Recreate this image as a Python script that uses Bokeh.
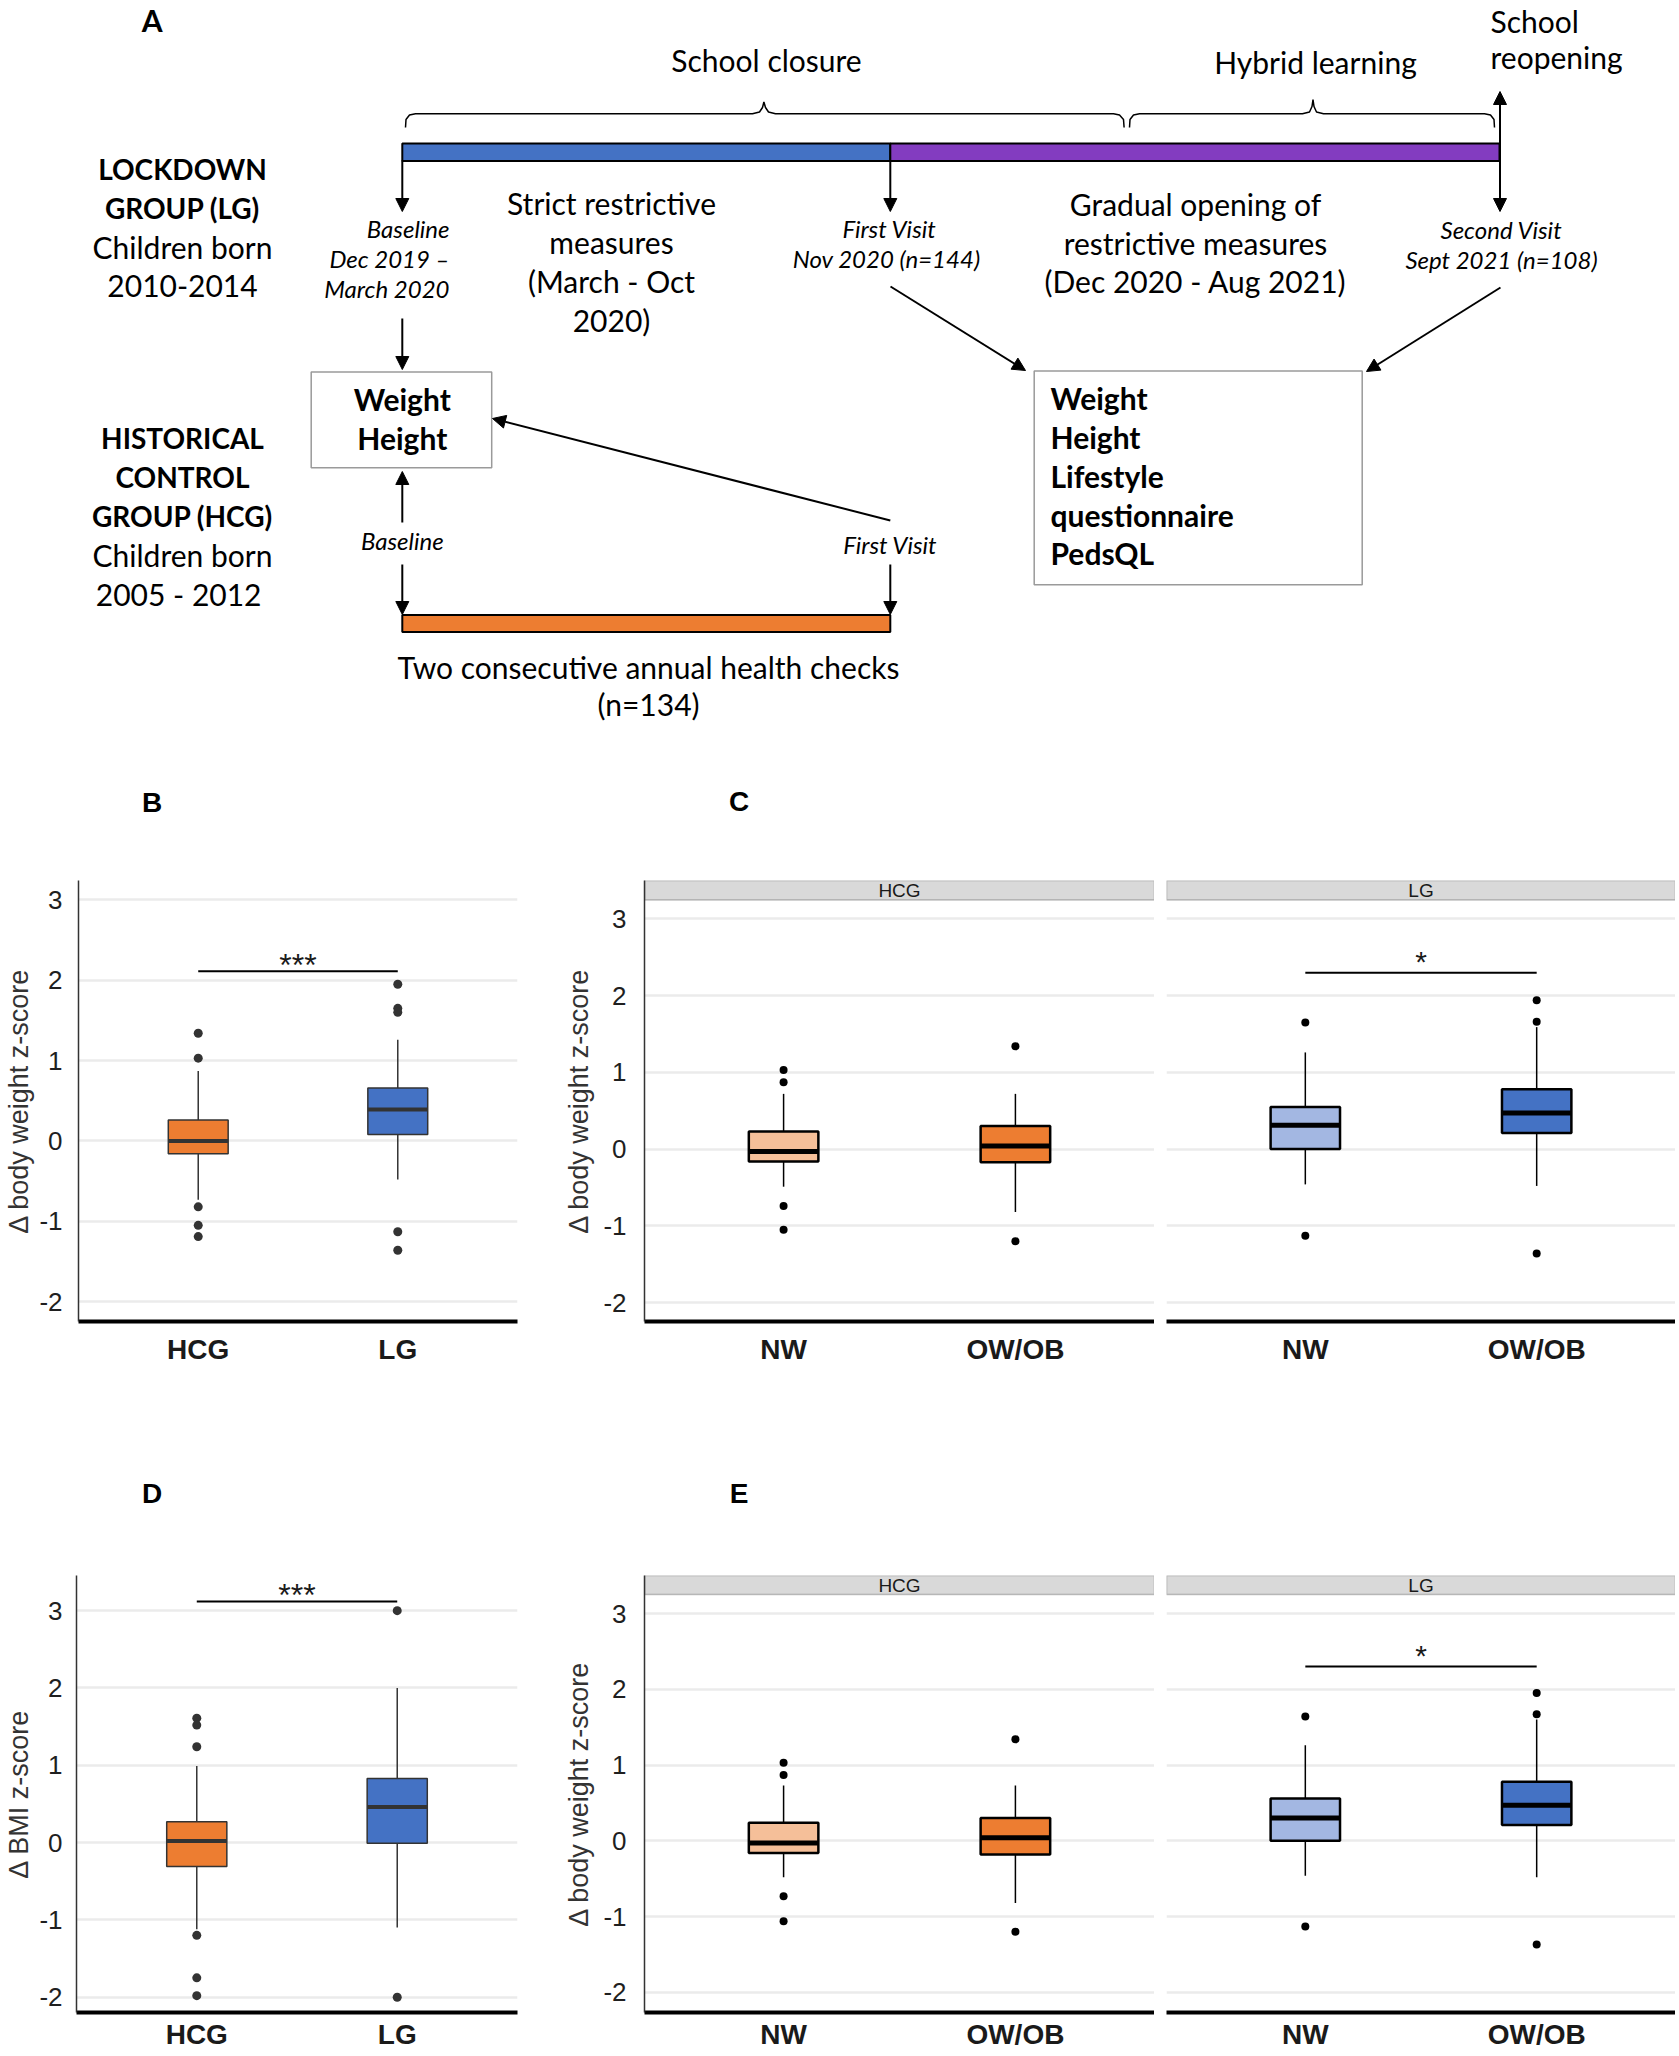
from bokeh.plotting import figure
from bokeh.models import (Range1d, FactorRange, FixedTicker, Arrow, NormalHead,
                          ColumnDataSource, BoxAnnotation, Grid)
from bokeh.layouts import column, row
from bokeh.embed import file_html
from bokeh.resources import INLINE
from bokeh.core.properties import value
from bokeh.transform import dodge

# ------------------------------------------------------------------ data
Y_TICKS = [-2, -1, 0, 1, 2, 3]
Y_TICK_TEXT = {-2: "-2", -1: "-1", 0: "0", 1: "1", 2: "2", 3: "3"}

# Panel B: change in body weight z-score, HCG vs LG
B_groups = ["HCG", "LG"]
B_q1 = [-0.16, 0.08]
B_median = [0.00, 0.39]
B_q3 = [0.26, 0.66]
B_whisker_low = [-0.73, -0.48]
B_whisker_high = [0.87, 1.26]
B_outlier_group = ["HCG", "HCG", "HCG", "HCG", "HCG", "LG", "LG", "LG", "LG", "LG"]
B_outlier_value = [1.34, 1.03, -0.82, -1.05, -1.19, 1.95, 1.65, 1.60, -1.13, -1.36]
B_sig_label = "***"
B_sig_y = 2.11

# Panel C: change in body weight z-score by weight status, faceted HCG / LG
C_status = ["NW", "OW/OB"]
C_HCG_q1 = [-0.16, -0.17]
C_HCG_median = [-0.03, 0.04]
C_HCG_q3 = [0.23, 0.30]
C_HCG_whisker_low = [-0.49, -0.82]
C_HCG_whisker_high = [0.72, 0.72]
C_HCG_outlier_status = ["NW", "NW", "NW", "NW", "OW/OB", "OW/OB"]
C_HCG_outlier_value = [1.03, 0.87, -0.74, -1.05, 1.34, -1.20]
C_LG_q1 = [0.00, 0.21]
C_LG_median = [0.31, 0.47]
C_LG_q3 = [0.55, 0.78]
C_LG_whisker_low = [-0.46, -0.48]
C_LG_whisker_high = [1.26, 1.59]
C_LG_outlier_status = ["NW", "NW", "OW/OB", "OW/OB", "OW/OB"]
C_LG_outlier_value = [1.65, -1.13, 1.94, 1.66, -1.36]
C_sig_label = "*"
C_sig_y = 2.30

# Panel D: change in BMI z-score, HCG vs LG
D_groups = ["HCG", "LG"]
D_q1 = [-0.31, -0.01]
D_median = [0.02, 0.46]
D_q3 = [0.27, 0.83]
D_whisker_low = [-1.12, -1.10]
D_whisker_high = [0.99, 2.00]
D_outlier_group = ["HCG", "HCG", "HCG", "HCG", "HCG", "HCG", "LG", "LG"]
D_outlier_value = [1.61, 1.52, 1.24, -1.20, -1.75, -1.98, 3.00, -2.00]
D_sig_label = "***"
D_sig_y = 3.12

# Panel E: (as published) change in body weight z-score by weight status
E_status = ["NW", "OW/OB"]
E_HCG_q1 = [-0.16, -0.18]
E_HCG_median = [-0.03, 0.04]
E_HCG_q3 = [0.24, 0.30]
E_HCG_whisker_low = [-0.48, -0.82]
E_HCG_whisker_high = [0.73, 0.73]
E_HCG_outlier_status = ["NW", "NW", "NW", "NW", "OW/OB", "OW/OB"]
E_HCG_outlier_value = [1.03, 0.87, -0.73, -1.06, 1.34, -1.20]
E_LG_q1 = [0.00, 0.21]
E_LG_median = [0.30, 0.47]
E_LG_q3 = [0.56, 0.78]
E_LG_whisker_low = [-0.46, -0.48]
E_LG_whisker_high = [1.26, 1.60]
E_LG_outlier_status = ["NW", "NW", "OW/OB", "OW/OB", "OW/OB"]
E_LG_outlier_value = [1.64, -1.13, 1.95, 1.67, -1.37]
E_sig_label = "*"
E_sig_y = 2.30

# ------------------------------------------------------------------ styles
ORANGE = "#ED7D31"
BLUE = "#4472C4"
LIGHT_ORANGE = "#F5BF99"
LIGHT_BLUE = "#A3B7E2"
PURPLE = "#833CC0"
GRID = "#EBEBEB"
SANS = "Liberation Sans"
DIAG = "Lato"
REG = 30     # diagram regular text
BOLD = 30    # diagram bold (mixed case)
CAPS = 28    # diagram bold capitals
ITAL = 24    # diagram italic


def pixel_fig(width, height, top):
    p = figure(width=width, height=height,
               x_range=Range1d(0, width), y_range=Range1d(top + height, top),
               x_axis_location=None, y_axis_location=None,
               output_backend="svg", toolbar_location=None, tools="",
               min_border=0)
    p.outline_line_color = None
    p.grid.visible = False
    p.background_fill_color = "white"
    p.border_fill_color = "white"
    return p


def put(p, x, y, txt, size=REG, style="normal", align="center", font=DIAG, color="black"):
    if font == DIAG:
        y -= 3
    p.text(x=[x], y=[y], text=[txt], text_font=value(font), text_font_size=f"{size}px",
           text_font_style=style, text_align=align, text_baseline="middle", text_color=color)


def arrow(p, x0, y0, x1, y1, both=False):
    head = dict(size=13, fill_color="black", line_color="black", line_width=1)
    kw = dict(end=NormalHead(**head), x_start=x0, y_start=y0, x_end=x1, y_end=y1,
              line_color="black", line_width=2)
    if both:
        kw["start"] = NormalHead(**head)
    p.add_layout(Arrow(**kw))


# ------------------------------------------------------------------ panel A
A = pixel_fig(1679, 830, 0)
put(A, 151.6, 22, "A", size=30, style="bold")

# braces
A.line([405, 405.5, 409, 415, 752, 759, 762, 763.4, 765, 768, 775, 1113, 1119, 1123, 1123.6],
       [127, 119, 114.5, 113.3, 113.3, 111.5, 107, 101.5, 107, 111.5, 113.3, 113.3, 114.5, 119, 127],
       line_color="black", line_width=1.5)
A.line([1129, 1129.5, 1133, 1139, 1302, 1309, 1311.5, 1312.5, 1313.5, 1316, 1323, 1484, 1490, 1493.5, 1494],
       [127, 119, 114.5, 113.3, 113.3, 111.5, 106, 99, 106, 111.5, 113.3, 113.3, 114.5, 119, 127],
       line_color="black", line_width=1.5)
put(A, 766, 62, "School closure")
put(A, 1315, 64, "Hybrid learning")
put(A, 1490, 23, "School", align="left")
put(A, 1490, 59, "reopening", align="left")

# timeline bars
A.quad(left=[401.8], right=[889.8], top=[143], bottom=[160.4], fill_color=BLUE, line_color="black", line_width=2)
A.quad(left=[889.8], right=[1499], top=[143], bottom=[160.4], fill_color=PURPLE, line_color="black", line_width=2)
A.quad(left=[401.8], right=[889.8], top=[614.4], bottom=[631.4], fill_color=ORANGE, line_color="black", line_width=2)

# arrows
arrow(A, 401.8, 160, 401.8, 211)
arrow(A, 889.8, 160, 889.8, 211)
arrow(A, 1499.5, 211, 1499.5, 91, both=True)
arrow(A, 401.8, 318, 401.8, 369)
arrow(A, 401.8, 522, 401.8, 471)
arrow(A, 401.8, 564, 401.8, 614)
arrow(A, 889.8, 564, 889.8, 614)
arrow(A, 889.8, 520, 492, 418)
arrow(A, 890, 286, 1025, 370)
arrow(A, 1500, 287, 1366, 371)

# boxes
A.quad(left=[310.7], right=[491.2], top=[371.4], bottom=[467.2], fill_color="white", line_color="#9A9A9A", line_width=1.5)
A.quad(left=[1033.7], right=[1361.7], top=[370.4], bottom=[584.2], fill_color="white", line_color="#9A9A9A", line_width=1.5)

# left side group labels
for y, t, s in [(171, "LOCKDOWN", "bold"), (210, "GROUP (LG)", "bold"), (249, "Children born", "normal"),
                (288, "2010-2014", "normal"), (440, "HISTORICAL", "bold"), (479, "CONTROL", "bold"),
                (518, "GROUP (HCG)", "bold"), (557, "Children born", "normal"), (596, "2005 -  2012", "normal")]:
    put(A, 182, y, t, style=s, size=CAPS if s == "bold" else REG)

# timeline annotations
for y, t in [(231, "Baseline"), (261, "Dec 2019 \u2013"), (291, "March 2020")]:
    put(A, 449, y, t, size=ITAL, style="italic", align="right")
for y, t in [(205, "Strict restrictive"), (244, "measures"), (283, "(March - Oct"), (322, "2020)")]:
    put(A, 611, y, t)
put(A, 889, 231, "First Visit", size=ITAL, style="italic")
put(A, 889, 261, "Nov  2020 (n=144)", size=ITAL, style="italic")
for y, t in [(206, "Gradual opening of"), (245, "restrictive measures"), (283, "(Dec 2020 - Aug 2021)")]:
    put(A, 1195, y, t)
put(A, 1501, 232, "Second Visit", size=ITAL, style="italic")
put(A, 1501, 262, "Sept 2021 (n=108)", size=ITAL, style="italic")

put(A, 401.8, 401, "Weight", size=BOLD, style="bold")
put(A, 401.8, 440, "Height", size=BOLD, style="bold")
put(A, 401.8, 543, "Baseline", size=ITAL, style="italic")
put(A, 889.8, 547, "First Visit", size=ITAL, style="italic")
put(A, 648, 669, "Two consecutive annual health checks")
put(A, 648, 706, "(n=134)")
for y, t in [(400, "Weight"), (439, "Height"), (478, "Lifestyle"), (517, "questionnaire"), (555, "PedsQL")]:
    put(A, 1050, y, t, size=BOLD, style="bold", align="left")

put(A, 151.6, 802, "B", size=28, style="bold", font=SANS)
put(A, 738.5, 801, "C", size=28, style="bold", font=SANS)

# header for D / E
H = pixel_fig(1679, 80, 1440)
put(H, 151.6, 1493, "D", size=28, style="bold", font=SANS)
put(H, 738.5, 1493, "E", size=28, style="bold", font=SANS)


# ------------------------------------------------------------------ box plots
def box_fig(cats, width, height, bl, br, bt, bb, y0, y1, y_title=None, show_y=True,
            tick_size=26, title_size=27, x_standoff=6, y_standoff=10, title_standoff=2):
    p = figure(width=width, height=height,
               x_range=FactorRange(factors=cats, range_padding=0.1, range_padding_units="absolute"),
               y_range=Range1d(y0, y1), y_axis_location="left" if show_y else None,
               output_backend="svg", toolbar_location=None, tools="",
               min_border_left=bl, min_border_right=br, min_border_top=bt, min_border_bottom=bb)
    p.outline_line_color = None
    p.grid.visible = False
    p.add_layout(Grid(dimension=1, ticker=FixedTicker(ticks=Y_TICKS),
                      grid_line_color=GRID, grid_line_width=2.5))
    if show_y:
        yx = p.yaxis[0]
        yx.ticker = FixedTicker(ticks=Y_TICKS)
        yx.major_label_overrides = Y_TICK_TEXT
        yx.axis_line_color = "#333333"
        yx.axis_line_width = 1.5
        yx.major_tick_line_color = None
        yx.minor_tick_line_color = None
        yx.major_label_text_font = SANS
        yx.major_label_text_font_size = f"{tick_size}px"
        yx.major_label_text_color = "#1f1f1f"
        yx.major_label_standoff = y_standoff
        yx.axis_label = y_title
        yx.axis_label_text_font = SANS
        yx.axis_label_text_font_size = f"{title_size}px"
        yx.axis_label_text_font_style = "normal"
        yx.axis_label_text_color = "#333333"
        yx.axis_label_standoff = title_standoff
    xx = p.xaxis[0]
    xx.axis_line_color = "black"
    xx.axis_line_width = 4
    xx.major_tick_line_color = None
    xx.minor_tick_line_color = None
    xx.major_label_text_font = SANS
    xx.major_label_text_font_size = "28px"
    xx.major_label_text_font_style = "bold"
    xx.major_label_text_color = "#1a1a1a"
    xx.major_label_standoff = x_standoff
    return p


def draw_boxes(p, cats, q1, med, q3, lo, hi, colors, out_cat, out_val,
               edge="#333333", box_lw=1.5, med_h=4, dot=9):
    src = ColumnDataSource(dict(x=cats, q1=q1, med=med, q3=q3, lo=lo, hi=hi, c=colors))
    p.segment(x0="x", y0="q3", x1="x", y1="hi", source=src, line_color=edge, line_width=1.5)
    p.segment(x0="x", y0="q1", x1="x", y1="lo", source=src, line_color=edge, line_width=1.5)
    p.vbar(x="x", width=0.3, bottom="q1", top="q3", source=src,
           fill_color="c", line_color=edge, line_width=box_lw)
    p.rect(x="x", y="med", width=0.3, height=med_h, height_units="screen", source=src,
           fill_color=edge, line_color=None)
    p.scatter(x=out_cat, y=out_val, size=dot, fill_color=edge, line_color=None)


def sig_bar(p, cats, left, right, y, label, text_dy, size):
    p.segment(x0=[left], y0=[y], x1=[right], y1=[y], line_color="black", line_width=2)
    half = (cats.index(right) - cats.index(left)) / 2
    src = ColumnDataSource(dict(x=[left], y=[y + text_dy], t=[label]))
    p.text(x=dodge("x", half, range=p.x_range), y="y", text="t", source=src,
           text_font=value(SANS), text_font_size=f"{size}px", text_align="center",
           text_baseline="alphabetic", text_color="#1a1a1a")


def strip(p, cats, y0, y1, label):
    p.add_layout(BoxAnnotation(bottom=y0, top=y1, fill_color="#D9D9D9", fill_alpha=1,
                               line_color="#3a3a3a", line_width=1.5, level="underlay"))
    src = ColumnDataSource(dict(x=[cats[0]], y=[(y0 + y1) / 2], t=[label]))
    p.text(x=dodge("x", (len(cats) - 1) / 2, range=p.x_range), y="y", text="t", source=src,
           text_font=value(SANS), text_font_size="19px", text_align="center",
           text_baseline="middle", text_color="#1a1a1a")


# row B / C (page y 830 .. 1440)
B = box_fig(B_groups, 560, 610, 78, 43, 50, 117, -2.246, 3.24, "\u0394 body weight z-score")
draw_boxes(B, B_groups, B_q1, B_median, B_q3, B_whisker_low, B_whisker_high,
           [ORANGE, BLUE], B_outlier_group, B_outlier_value)
sig_bar(B, B_groups, "HCG", "LG", B_sig_y, B_sig_label, 0.08, 32)

C1 = box_fig(C_status, 594, 610, 84, 0, 50, 119, -2.247, 3.501, "\u0394 body weight z-score",
             y_standoff=12, title_standoff=6)
strip(C1, C_status, 3.247, 3.501, "HCG")
draw_boxes(C1, C_status, C_HCG_q1, C_HCG_median, C_HCG_q3, C_HCG_whisker_low, C_HCG_whisker_high,
           [LIGHT_ORANGE, ORANGE], C_HCG_outlier_status, C_HCG_outlier_value,
           edge="black", box_lw=2.5, med_h=5, dot=8)
C2 = box_fig(C_status, 521, 610, 12, 0, 50, 119, -2.247, 3.501, show_y=False)
strip(C2, C_status, 3.247, 3.501, "LG")
draw_boxes(C2, C_status, C_LG_q1, C_LG_median, C_LG_q3, C_LG_whisker_low, C_LG_whisker_high,
           [LIGHT_BLUE, BLUE], C_LG_outlier_status, C_LG_outlier_value,
           edge="black", box_lw=2.5, med_h=5, dot=8)
sig_bar(C2, C_status, "NW", "OW/OB", C_sig_y, C_sig_label, 0.15, 30)

# row D / E (page y 1520 .. 2056)
D = box_fig(D_groups, 560, 536, 76, 43, 55, 44, -2.198, 3.455, "\u0394 BMI z-score",
            x_standoff=0, y_standoff=8, title_standoff=2)
draw_boxes(D, D_groups, D_q1, D_median, D_q3, D_whisker_low, D_whisker_high,
           [ORANGE, BLUE], D_outlier_group, D_outlier_value)
sig_bar(D, D_groups, "HCG", "LG", D_sig_y, D_sig_label, 0.08, 32)

E1 = box_fig(E_status, 594, 536, 84, 0, 53, 44, -2.266, 3.502, "\u0394 body weight z-score",
             y_standoff=12, title_standoff=6, x_standoff=0)
strip(E1, E_status, 3.251, 3.502, "HCG")
draw_boxes(E1, E_status, E_HCG_q1, E_HCG_median, E_HCG_q3, E_HCG_whisker_low, E_HCG_whisker_high,
           [LIGHT_ORANGE, ORANGE], E_HCG_outlier_status, E_HCG_outlier_value,
           edge="black", box_lw=2.5, med_h=5, dot=8)
E2 = box_fig(E_status, 521, 536, 12, 0, 53, 44, -2.266, 3.502, show_y=False, x_standoff=0)
strip(E2, E_status, 3.251, 3.502, "LG")
draw_boxes(E2, E_status, E_LG_q1, E_LG_median, E_LG_q3, E_LG_whisker_low, E_LG_whisker_high,
           [LIGHT_BLUE, BLUE], E_LG_outlier_status, E_LG_outlier_value,
           edge="black", box_lw=2.5, med_h=5, dot=8)
sig_bar(E2, E_status, "NW", "OW/OB", E_sig_y, E_sig_label, 0.15, 30)

layout = column(A, row(B, C1, C2), H, row(D, E1, E2))
open("out.html", "w").write(file_html(layout, INLINE))
